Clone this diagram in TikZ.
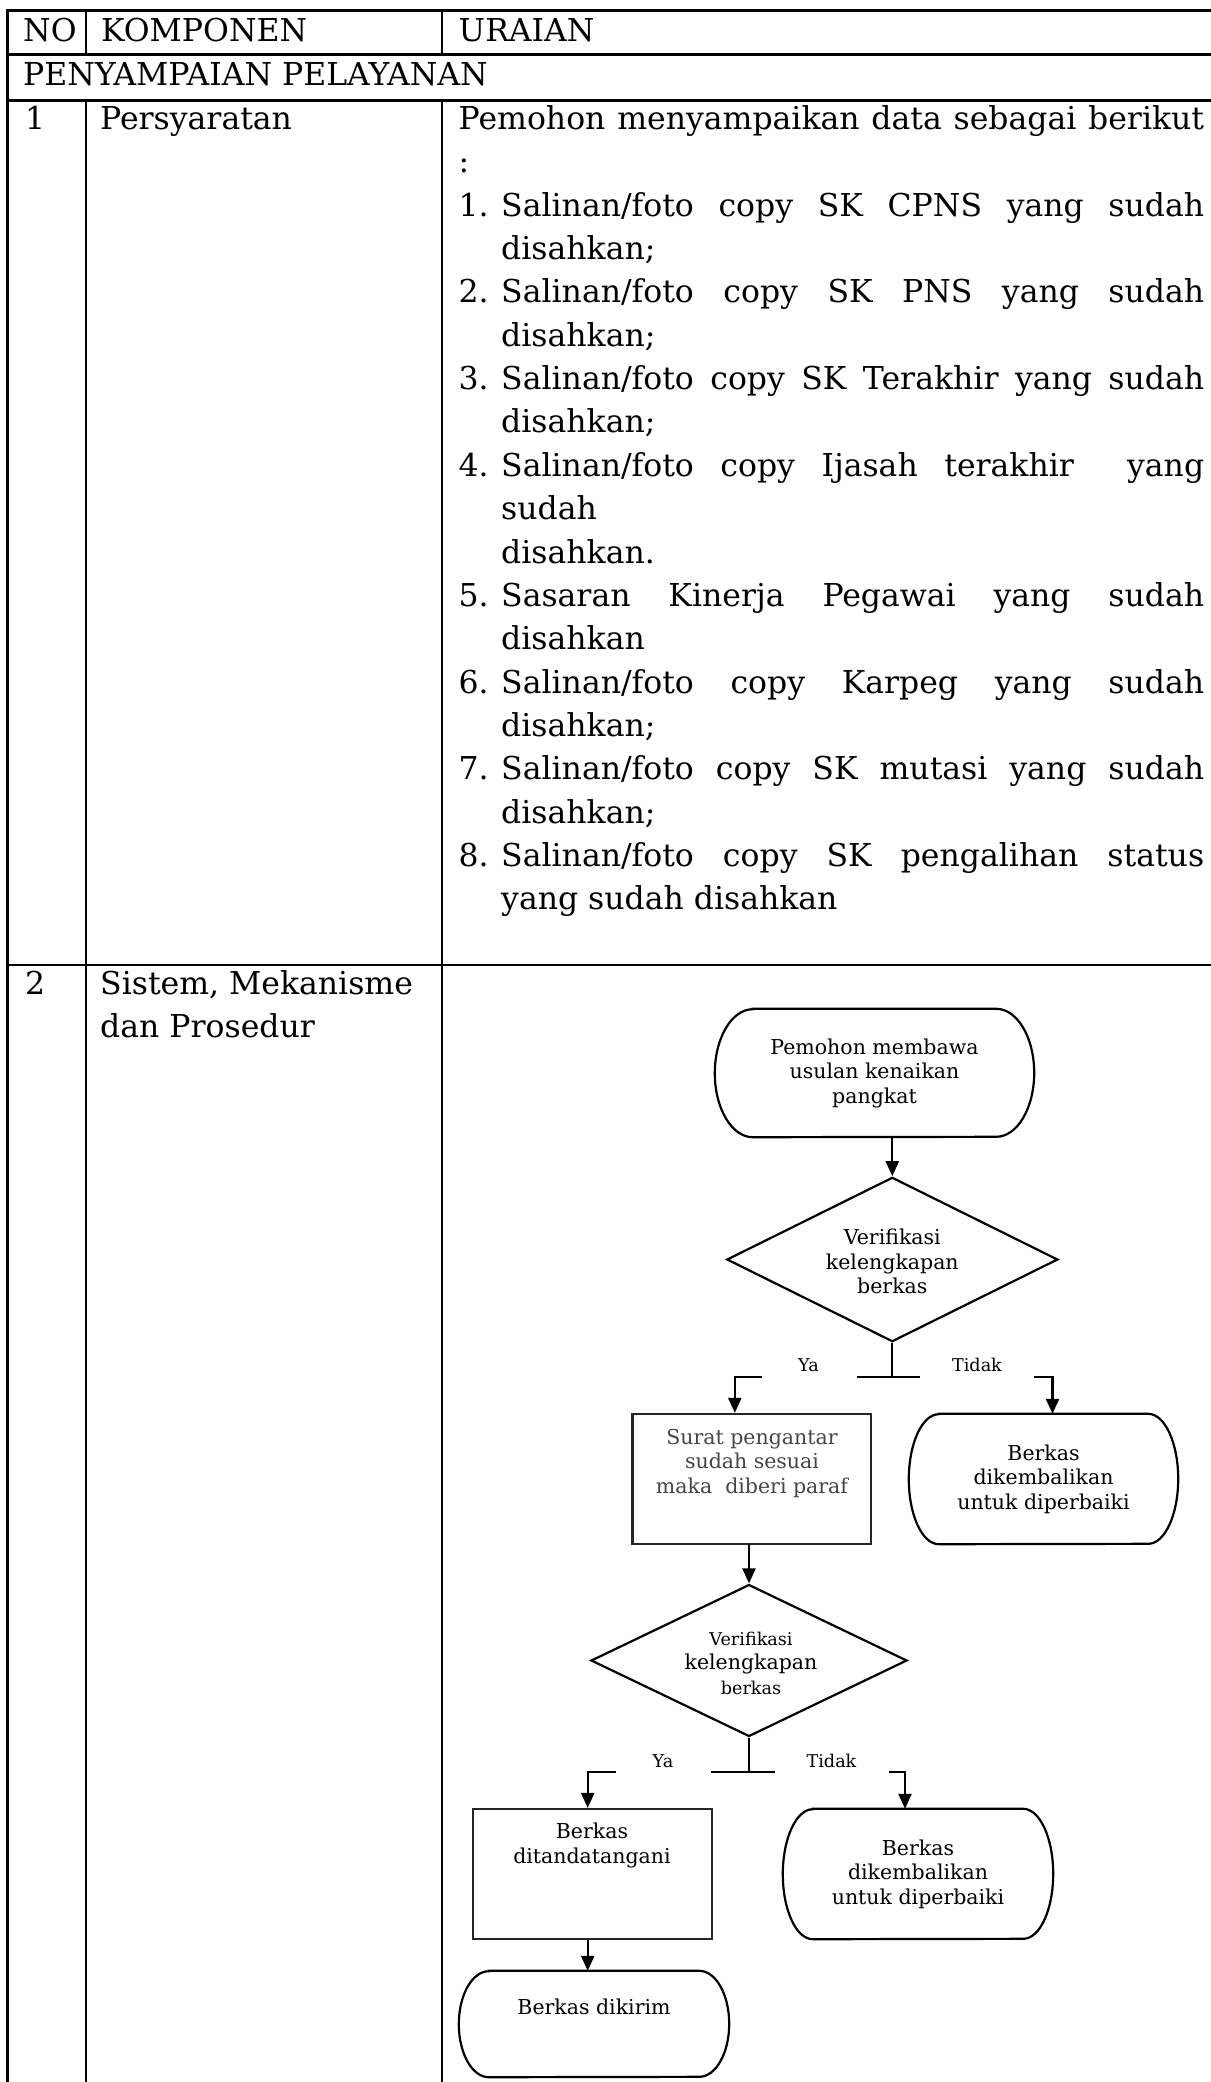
\documentclass[tikz,border=0pt]{standalone}
\usepackage{fontspec}
\setmainfont{DejaVu Serif}
\usetikzlibrary{arrows.meta,shapes.geometric,calc}
\definecolor{txtgray}{HTML}{454545}
\definecolor{edgegray}{HTML}{262626}
% one justified line of a list item
\newcommand\jst[1]{\makebox[703pt][s]{#1}}
% terminator outline around an (undrawn) node: name, x radius, y radius
\newcommand\termshape[3]{%
  \draw[flow] ([xshift=#2]#1.north west) -- ([xshift=-#2]#1.north east)
    arc[start angle=90,end angle=-90,x radius=#2,y radius=#3]
    -- ([xshift=#2]#1.south west)
    arc[start angle=270,end angle=90,x radius=#2,y radius=#3] -- cycle;}
\begin{document}
\begin{tikzpicture}[x=1pt,y=-1pt,
  grid/.style={line width=2.6pt,line cap=rect},
  cell/.style={anchor=base west,inner sep=0pt,font=\fontsize{31.5}{43.4}\selectfont},
  flow/.style={line width=2.2pt},
  arr/.style={flow,-{Triangle[length=15pt,width=13pt]}},
  ftext/.style={inner sep=0pt,align=center,font=\fontsize{20.5}{24.5}\selectfont},
  termbox/.style={ftext,draw=none},
  procbox/.style={draw=edgegray,flow,inner sep=0pt},
  decision/.style={diamond,draw,flow,inner sep=0pt},
  lbl/.style={inner sep=0pt,font=\fontsize{17.6}{20}\selectfont}
]
\useasboundingbox (0,0) rectangle (1210,2082);

% ---------- table rules ----------
\draw[grid] (7.7,10.7) -- (1210,10.7);
\draw[grid] (7.7,54.3) -- (1210,54.3);
\draw[grid] (7.7,100.3) -- (1210,100.3);
\draw[grid] (7.7,965) -- (1210,965);
\draw[grid] (7.7,10.7) -- (7.7,2082);
\draw[grid] (86,10.7) -- (86,54.3);
\draw[grid] (86,100.3) -- (86,2082);
\draw[grid] (442,10.7) -- (442,54.3);
\draw[grid] (442,100.3) -- (442,2082);

% ---------- header ----------
\node[cell] (hno) at (23,42) {NO};
\node[cell] (hkomp) at (101,42) {KOMPONEN};
\node[cell] (hurai) at (458.5,42) {URAIAN};
\node[cell] (hsect) at (23,86) {PENYAMPAIAN PELAYANAN};

% ---------- row 1 ----------
\node[cell] (n1) at (25,129.5) {1};
\node[cell] (k1) at (100,129.5) {Persyaratan};
\node[cell] (u0) at (458.5,129.5) {\makebox[745.5pt][s]{Pemohon menyampaikan data sebagai berikut}};
\node[cell] (u1) at (458.5,172.85) {:};
\node[cell] (i1) at (458.5,216.2) {1.};
\node[cell] (u2) at (501,216.2) {\jst{Salinan/foto copy SK CPNS yang sudah}};
\node[cell] (u3) at (501,259.55) {disahkan;};
\node[cell] (i2) at (458.5,302.9) {2.};
\node[cell] (u4) at (501,302.9) {\jst{Salinan/foto copy SK PNS yang sudah}};
\node[cell] (u5) at (501,346.25) {disahkan;};
\node[cell] (i3) at (458.5,389.6) {3.};
\node[cell] (u6) at (501,389.6) {\jst{Salinan/foto copy SK Terakhir yang sudah}};
\node[cell] (u7) at (501,432.95) {disahkan;};
\node[cell] (i4) at (458.5,476.3) {4.};
\node[cell] (u8) at (501,476.3) {\jst{Salinan/foto copy Ijasah terakhir\ \ yang}};
\node[cell] (u9) at (501,519.65) {sudah};
\node[cell] (u10) at (501,563.0) {disahkan.};
\node[cell] (i5) at (458.5,606.35) {5.};
\node[cell] (u11) at (501,606.35) {\jst{Sasaran Kinerja Pegawai yang sudah}};
\node[cell] (u12) at (501,649.7) {disahkan};
\node[cell] (i6) at (458.5,693.05) {6.};
\node[cell] (u13) at (501,693.05) {\jst{Salinan/foto copy Karpeg yang sudah}};
\node[cell] (u14) at (501,736.4) {disahkan;};
\node[cell] (i7) at (458.5,779.75) {7.};
\node[cell] (u15) at (501,779.75) {\jst{Salinan/foto copy SK mutasi yang sudah}};
\node[cell] (u16) at (501,823.1) {disahkan;};
\node[cell] (i8) at (458.5,866.45) {8.};
\node[cell] (u17) at (501,866.45) {\jst{Salinan/foto copy SK pengalihan status}};
\node[cell] (u18) at (501,909.8) {yang sudah disahkan};

% ---------- row 2 ----------
\node[cell] (n2) at (25,994) {2};
\node[cell] (k2a) at (100,994) {Sistem, Mekanisme};
\node[cell] (k2b) at (100,1037) {dan Prosedur};

% ---------- flowchart shapes ----------
\node[termbox,minimum width=319pt,minimum height=128pt] (t1) at (874.5,1073)
  {Pemohon membawa\\usulan kenaikan\\pangkat};
\termshape{t1}{38pt}{64pt}

\node[decision,minimum width=331pt,minimum height=164.4pt] (dia1) at (892.3,1259.5) {};
\node[ftext] (dia1t) at (892.3,1261.5) {Verifikasi\\kelengkapan\\berkas};

\node[procbox,minimum width=238.5pt,minimum height=130pt] (r1) at (751.8,1479) {};
\node[ftext,text=txtgray] (r1t) at (752,1463.5) {Surat pengantar\\sudah sesuai\\maka\ \ diberi paraf};

\node[termbox,minimum width=269pt,minimum height=130pt] (e1) at (1043.5,1479)
  {Berkas\\dikembalikan\\untuk diperbaiki};
\termshape{e1}{30pt}{65pt}

\node[decision,minimum width=316pt,minimum height=152pt] (dia2) at (749,1660.5) {};
\node[ftext] (dia2t) at (751,1663)
  {{\fontsize{17.6}{24}\selectfont Verifikasi}\\kelengkapan\\{\fontsize{17.6}{24}\selectfont berkas}};

\node[procbox,minimum width=239pt,minimum height=130pt] (r2) at (592.2,1874) {};
\node[ftext] (r2t) at (592,1845.5) {Berkas\\ditandatangani};

\node[termbox,minimum width=270pt,minimum height=130pt] (e2) at (918,1874)
  {Berkas\\dikembalikan\\untuk diperbaiki};
\termshape{e2}{30pt}{65pt}

\node[termbox,minimum width=270pt,minimum height=106pt] (t3) at (594,2024) {};
\termshape{t3}{30pt}{53pt}
\node[ftext] (t3t) at (594,2007) {Berkas dikirim};

% ---------- connectors ----------
\draw[arr] (dia1.north |- t1.south) -- (dia1.north);

% first decision: branch bar
\coordinate (y1a) at (761.5,1376.7);
\coordinate (m1a) at (857,1376.7);
\coordinate (m1b) at (919.6,1376.7);
\coordinate (n1a) at (1034,1376.7);
\draw[flow] (dia1.south) -- (dia1.south |- m1a);
\draw[flow] (m1a) -- (m1b);
\draw[arr] (y1a) -| ([xshift=-17pt]r1.north);
\draw[arr] (n1a) -| ([xshift=9pt]e1.north);
\node[lbl] (ya1) at (808.6,1365) {Ya};
\node[lbl] (tidak1) at (977,1365) {Tidak};

\draw[arr] (dia2.north |- r1.south) -- (dia2.north);

% second decision: branch bar
\coordinate (y2a) at (615.7,1772);
\coordinate (m2a) at (711,1772);
\coordinate (m2b) at (775,1772);
\coordinate (n2a) at (889,1772);
\draw[flow] (dia2.south) -- (dia2.south |- m2a);
\draw[flow] (m2a) -- (m2b);
\draw[arr] (y2a) -| ([xshift=-4.5pt]r2.north);
\draw[arr] (n2a) -| ([xshift=-13pt]e2.north);
\node[lbl] (ya2) at (663,1761) {Ya};
\node[lbl] (tidak2) at (831.5,1761) {Tidak};

\coordinate (r2out) at ([xshift=-4.5pt]r2.south);
\draw[arr] (r2out) -- (r2out |- t3.north);
\end{tikzpicture}
\end{document}
